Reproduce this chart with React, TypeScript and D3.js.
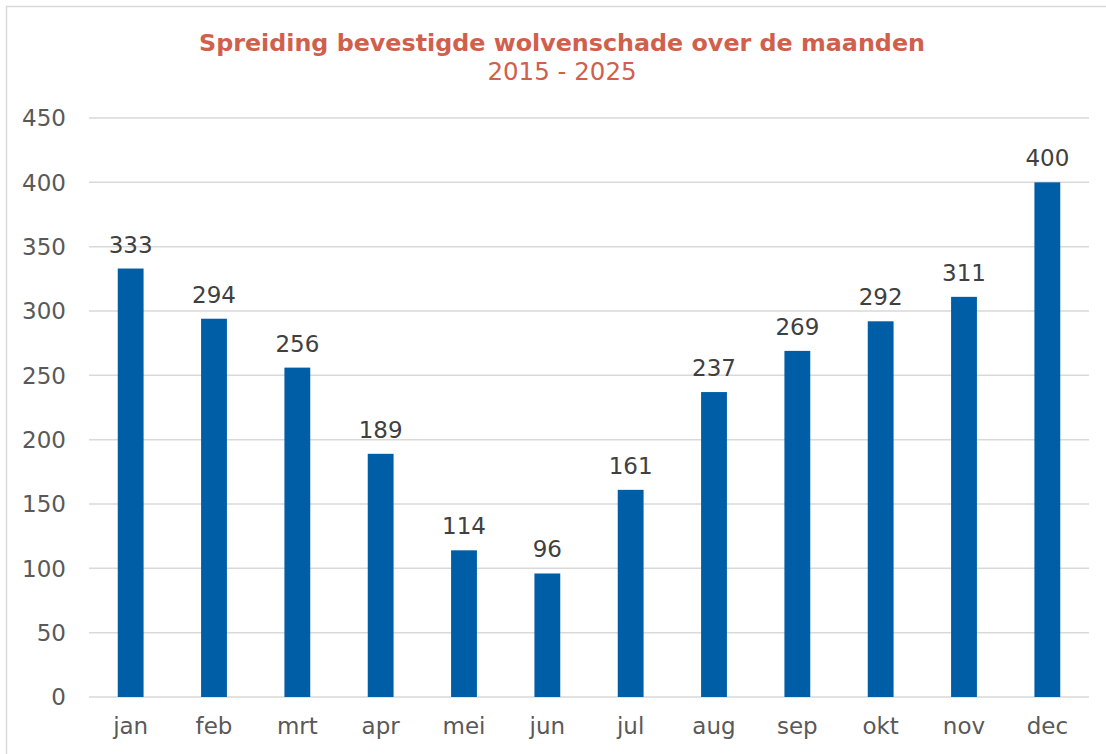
import React from 'react';
import * as d3 from 'd3';

const months = ['jan', 'feb', 'mrt', 'apr', 'mei', 'jun', 'jul', 'aug', 'sep', 'okt', 'nov', 'dec'];
const counts = [333, 294, 256, 189, 114, 96, 161, 237, 269, 292, 311, 400];
const yTicks = [0, 50, 100, 150, 200, 250, 300, 350, 400, 450];

const W = 1106;
const H = 754;
const m = { left: 89, right: 17, top: 118, bottom: 57 };
const FONT = '"DejaVu Sans", Verdana, sans-serif';

export default function App() {
  const x = d3.scaleBand().domain(months).range([m.left, W - m.right]).paddingInner(0.69).paddingOuter(0.345);
  const y = d3.scaleLinear().domain([0, 450]).range([H - m.bottom, m.top]);

  return (
    <svg width={W} height={H} style={{ position: 'absolute', left: 0, top: 0, background: '#fff' }} fontFamily={FONT}>
      <rect x={6.5} y={6.5} width={W + 10} height={H + 10} fill="#fff" stroke="#d9d9d9" strokeWidth={1.5} />
      <text x={562} y={51} textAnchor="middle" fontSize={23.8} fontWeight="bold" fill="#d0604c">
        Spreiding bevestigde wolvenschade over de maanden
      </text>
      <text x={562} y={80} textAnchor="middle" fontSize={24.5} fill="#d0604c">2015 - 2025</text>

      {yTicks.map(t => (
        <g key={t}>
          <line x1={m.left} x2={W - m.right} y1={y(t)} y2={y(t)} stroke="#d9d9d9" strokeWidth={1.5} />
          <text x={66} y={y(t)} dy="0.36em" textAnchor="end" fontSize={23} fill="#595959">{t}</text>
        </g>
      ))}

      {counts.map((v, i) => {
        const bx = x(months[i])!;
        return (
          <g key={months[i]}>
            <rect x={bx} y={y(v)} width={x.bandwidth()} height={y(0) - y(v)} fill="#005ea6" />
            <text x={bx + x.bandwidth() / 2} y={y(v) - 16} textAnchor="middle" fontSize={23} fill="#404040">{v}</text>
          </g>
        );
      })}

      {months.map(mo => (
        <text key={mo} x={x(mo)! + x.bandwidth() / 2} y={734} textAnchor="middle" fontSize={23} fill="#595959">{mo}</text>
      ))}
    </svg>
  );
}
